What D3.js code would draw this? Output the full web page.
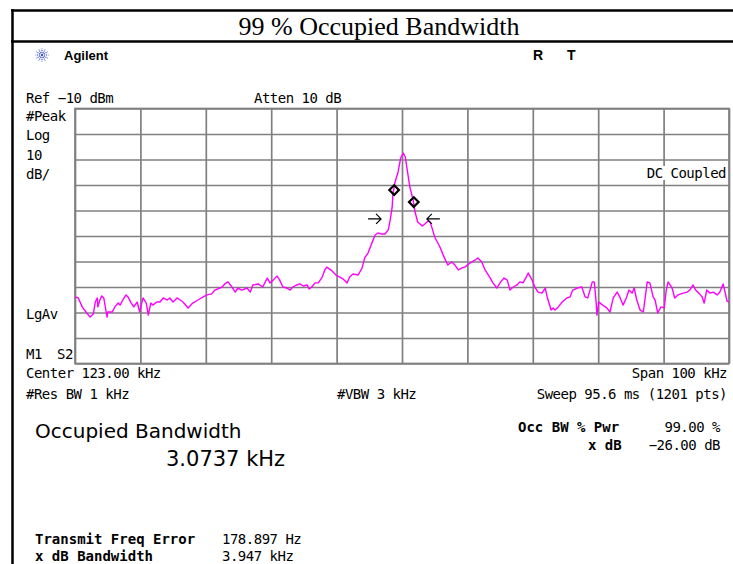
<!DOCTYPE html>
<html>
<head>
<meta charset="utf-8">
<script src="https://cdn.jsdelivr.net/npm/d3@7"></script>
<style>
  html, body { margin: 0; padding: 0; background: #fff; }
  svg { display: block; }
  .mono { font-family: "DejaVu Sans Mono", monospace; font-size: 14px; letter-spacing: -0.5px; fill: #000; }
  .monob { font-family: "DejaVu Sans Mono", monospace; font-size: 14px; font-weight: bold; fill: #000; }
</style>
</head>
<body>
<div id="chart"></div>
<script>
// analyzer settings
var centerKHz = 123;
var spanKHz = 100;
var refLevel = -10;   // dBm
var dbPerDiv = 10;
var divisions = 10;

// trace (kHz, dBm)
var traceFreq = [
  73.0, 73.5, 74.1, 74.8, 75.3, 75.8, 76.1, 76.4, 76.5, 76.8, 77.1, 77.4, 77.9, 78.0, 78.7, 79.1,
  79.6, 79.9, 80.3, 80.8, 81.1, 81.6, 82.0, 82.5, 82.9, 83.2, 83.4, 83.9, 84.2, 84.6, 84.9, 85.5,
  86.0, 86.5, 87.1, 87.5, 88.0, 88.6, 89.1, 89.5, 90.3, 91.0, 91.8, 92.6, 93.2, 93.9, 94.4, 95.5,
  95.9, 96.4, 97.0, 97.5, 97.9, 98.5, 99.3, 99.8,
  100.2, 101.0, 101.7, 102.4, 102.8, 103.3, 103.9, 104.3, 104.8, 105.4, 105.9, 106.3, 106.9, 107.4,
  107.9, 108.5, 108.8, 109.2, 109.7, 110.2, 110.8, 111.2, 111.5, 112.3, 112.9, 113.5, 114.0, 114.6,
  115.0, 115.5, 116.3, 116.9, 117.3, 117.8, 118.4, 118.9, 119.3, 119.9, 120.4, 120.9, 121.2, 121.5,
  121.6, 121.9, 122.4, 122.8, 123.2, 123.5, 123.8, 124.2, 124.7, 125.0, 125.4, 126.1, 126.5, 127.0,
  127.3, 127.6, 128.0, 128.8, 129.3, 130.0, 130.6, 131.1, 131.6, 132.2, 132.6, 133.4, 134.2, 134.6,
  135.2, 135.7, 136.5, 136.9, 137.5, 138.1, 138.6, 139.1, 139.5, 140.0, 140.6, 141.0, 141.5, 142.0,
  142.3, 142.9, 143.3, 143.8, 144.4, 144.9, 145.2, 145.8, 146.1, 146.4, 146.9, 147.5, 148.2, 148.7,
  149.1, 149.8,
  150.5, 151.0, 151.4, 152.1, 152.4, 152.7, 152.8, 153.1, 153.7, 154.3, 154.8, 155.3, 155.9, 156.3,
  156.8, 157.3, 157.7, 158.2, 158.5, 158.9, 159.4, 159.9, 160.2, 160.5, 160.9, 161.4, 161.7, 162.1,
  162.6, 163.1, 163.4, 163.7, 164.3, 164.7, 165.2, 166.0, 166.6, 167.0, 167.5, 167.9, 168.4, 168.9,
  169.2, 169.6, 170.1, 170.6, 171.2, 171.6, 172.1, 172.4, 172.7, 173.0
];
var traceLevel = [
  -83.9, -84.3, -87.8, -90.2, -91.8, -90.6, -85.9, -84.3, -87.8, -85.1, -83.5, -84.3, -91.8, -89.8, -89.8, -87.8,
  -86.3, -87.1, -85.1, -83.1, -83.9, -86.3, -87.8, -85.9, -89.8, -86.3, -84.3, -86.3, -91.0, -86.3, -87.1, -85.9,
  -85.9, -84.3, -85.1, -84.3, -85.9, -84.3, -85.1, -85.9, -88.2, -86.3, -85.1, -83.9, -83.1, -82.7, -81.2, -80.0,
  -78.8, -78.0, -80.0, -82.0, -80.4, -81.2, -80.4, -82.0,
  -79.2, -78.8, -80.0, -76.5, -78.4, -77.3, -75.7, -77.3, -80.0, -80.4, -81.2, -80.0, -79.2, -78.8,
  -79.6, -79.2, -80.8, -80.0, -78.4, -78.4, -76.1, -73.3, -72.2, -73.7, -75.3, -76.1, -76.9, -78.4,
  -76.1, -74.9, -75.3, -72.5, -68.6, -66.7, -62.7, -59.6, -58.8, -59.2, -59.2, -57.6, -53.7, -48.6,
  -43.9, -39.2, -34.9, -29.4, -27.5, -29.0, -34.1, -40.8, -45.9, -50.6, -54.5, -56.1, -55.3, -54.1,
  -54.5, -56.9, -60.4, -64.3, -67.5, -71.4, -70.2, -71.4, -73.3, -72.5, -72.2, -70.6, -69.4, -68.6,
  -70.2, -73.3, -76.5, -78.4, -80.4, -78.0, -76.5, -77.3, -81.2, -80.0, -79.2, -78.0, -78.4, -76.1,
  -74.5, -77.3, -80.0, -82.0, -82.4, -80.4, -83.9, -89.0, -88.2, -89.0, -87.8, -85.9, -84.3, -83.9,
  -81.2, -80.4,
  -80.0, -83.9, -84.3, -78.0, -78.0, -86.3, -91.0, -85.9, -87.1, -88.2, -89.8, -84.3, -82.0, -83.9,
  -87.1, -84.3, -81.2, -82.4, -80.4, -85.1, -89.0, -89.8, -83.9, -78.0, -78.4, -83.9, -85.1, -90.2,
  -87.8, -88.2, -81.2, -78.0, -80.4, -84.3, -83.1, -82.4, -82.0, -81.2, -79.2, -81.2, -82.4, -83.9,
  -86.3, -81.2, -82.4, -82.0, -83.1, -82.0, -78.8, -82.0, -85.5, -85.9
];

// occupied bandwidth edge markers and x dB arrows
var markerFreq = [121.8, 124.8];
var markerLevel = [-42.0, -46.7];
var arrowFreq = [119.8, 126.8];
var arrowDir = [1, -1];
var arrowLevel = -53.3;

var W = 733, H = 564;
var svg = d3.select('#chart').append('svg').attr('width', W).attr('height', H);
svg.append('rect').attr('width', W).attr('height', H).attr('fill', '#fff');

// page frame
svg.append('line').attr('x1', 11).attr('x2', W).attr('y1', 10.5).attr('y2', 10.5)
  .attr('stroke', '#000').attr('stroke-width', 2.5);
svg.append('line').attr('x1', 11).attr('x2', W).attr('y1', 41.5).attr('y2', 41.5)
  .attr('stroke', '#000').attr('stroke-width', 2.5);
svg.append('line').attr('x1', 12.5).attr('x2', 12.5).attr('y1', 9).attr('y2', H)
  .attr('stroke', '#000').attr('stroke-width', 2.5);

svg.append('text').attr('x', 379).attr('y', 35).attr('text-anchor', 'middle')
  .style('font-family', '"Liberation Serif", "Times New Roman", serif').style('font-size', '26px')
  .text('99 % Occupied Bandwidth');

// Agilent logo
var logo = svg.append('g').attr('transform', 'translate(42,55)');
d3.range(12).forEach(function (i) {
  var a = i * Math.PI / 6;
  logo.append('line')
    .attr('x1', Math.cos(a) * 2).attr('y1', Math.sin(a) * 2)
    .attr('x2', Math.cos(a) * 6.5).attr('y2', Math.sin(a) * 6.5)
    .attr('stroke', '#3a4fd0').attr('stroke-width', 1.1).attr('stroke-dasharray', '1.2,0.8');
});
logo.append('circle').attr('r', 1.2).attr('fill', '#3a4fd0');

svg.append('text').attr('x', 64).attr('y', 60)
  .style('font-family', '"Liberation Sans", Arial, sans-serif').style('font-size', '13px').style('font-weight', 'bold')
  .text('Agilent');
svg.append('text').attr('x', 533).attr('y', 60)
  .style('font-family', '"Liberation Sans", Arial, sans-serif').style('font-size', '14px').style('font-weight', 'bold')
  .text('R');
svg.append('text').attr('x', 567).attr('y', 60)
  .style('font-family', '"Liberation Sans", Arial, sans-serif').style('font-size', '14px').style('font-weight', 'bold')
  .text('T');

// scales
var x = d3.scaleLinear().domain([centerKHz - spanKHz / 2, centerKHz + spanKHz / 2]).range([75, 729]);
var y = d3.scaleLinear().domain([refLevel - dbPerDiv * divisions, refLevel]).range([363.5, 108.5]);
var plotW = x.range()[1] - x.range()[0];
var plotH = y.range()[0] - y.range()[1];

var xTicks = d3.range(divisions + 1).map(function (i) { return x.domain()[0] + i * spanKHz / divisions; });
var yTicks = d3.range(divisions + 1).map(function (i) { return y.domain()[0] + i * dbPerDiv; });

var grid = svg.append('g');
grid.append('g').attr('transform', 'translate(0,' + y.range()[0] + ')')
  .call(d3.axisBottom(x).tickValues(xTicks).tickSize(-plotH).tickFormat(''));
grid.append('g').attr('transform', 'translate(' + x.range()[0] + ',0)')
  .call(d3.axisLeft(y).tickValues(yTicks).tickSize(-plotW).tickFormat(''));
grid.selectAll('.domain').remove();
grid.selectAll('.tick line').attr('stroke', '#808080').attr('stroke-width', 1.7);
grid.append('rect').attr('x', x.range()[0]).attr('y', y.range()[1])
  .attr('width', plotW).attr('height', plotH)
  .attr('fill', 'none').attr('stroke', '#808080').attr('stroke-width', 1.7);

// labels
function label(s, px, py, cls, anchor) {
  return svg.append('text').attr('class', cls || 'mono').attr('x', px).attr('y', py)
    .attr('text-anchor', anchor || 'start').text(s);
}

label('Ref \u221210 dBm', 26, 103);
label('Atten 10 dB', 254, 103);
label('#Peak', 26, 121);
label('Log', 26, 140);
label('10', 26, 160);
label('dB/', 26, 179);
label('LgAv', 26, 319);
label('M1', 26, 359);
label('S2', 57, 359);

var dc = label('DC Coupled', 726, 178, 'mono', 'end');
var bb = dc.node().getBBox();
svg.insert('rect', function () { return dc.node(); })
  .attr('x', bb.x - 1).attr('y', bb.y + 1).attr('width', bb.width + 1).attr('height', bb.height - 2)
  .attr('fill', '#fff');

label('Center 123.00 kHz', 26, 378);
label('Span 100 kHz', 727, 378, 'mono', 'end');
label('#Res BW 1 kHz', 26, 399);
label('#VBW 3 kHz', 337, 399);
label('Sweep 95.6 ms (1201 pts)', 727, 399, 'mono', 'end');

svg.append('text').attr('x', 35).attr('y', 438)
  .style('font-family', '"DejaVu Sans", sans-serif').style('font-size', '20px')
  .text('Occupied Bandwidth');
svg.append('text').attr('x', 166).attr('y', 466)
  .style('font-family', '"DejaVu Sans", sans-serif').style('font-size', '21px')
  .text('3.0737 kHz');

label('Occ BW % Pwr', 518, 432, 'monob');
label('99.00 %', 720, 432, 'mono', 'end');
label('x dB', 588, 450, 'monob');
label('\u221226.00 dB', 720, 450, 'mono', 'end');

label('Transmit Freq Error', 35, 544, 'monob');
label('178.897 Hz', 222, 544);
label('x dB Bandwidth', 35, 561, 'monob');
label('3.947 kHz', 222, 561);

// trace
var pts = traceFreq.map(function (f, i) { return [f, traceLevel[i]]; });
svg.append('path').datum(pts)
  .attr('d', d3.line().x(function (d) { return x(d[0]); }).y(function (d) { return y(d[1]); }))
  .attr('fill', 'none').attr('stroke', '#ff00ff').attr('stroke-width', 1.4).attr('stroke-linejoin', 'round');

// markers
svg.selectAll('.mk').data(markerFreq).enter().append('path')
  .attr('class', 'mk')
  .attr('d', d3.symbol(d3.symbolSquare, 46))
  .attr('transform', function (f, i) { return 'translate(' + x(f) + ',' + y(markerLevel[i]) + ') rotate(45)'; })
  .attr('fill', 'none').attr('stroke', '#000').attr('stroke-width', 2.2);

// x dB arrows
svg.selectAll('.arr').data(arrowFreq).enter().append('path')
  .attr('class', 'arr')
  .attr('d', function (f, i) {
    var tx = x(f), ty = y(arrowLevel), d = arrowDir[i];
    return 'M' + (tx - d * 13) + ',' + ty + 'H' + tx +
      'M' + (tx - d * 5) + ',' + (ty - 5) + 'L' + tx + ',' + ty + 'L' + (tx - d * 5) + ',' + (ty + 5);
  })
  .attr('fill', 'none').attr('stroke', '#000').attr('stroke-width', 1.2);
</script>
</body>
</html>
